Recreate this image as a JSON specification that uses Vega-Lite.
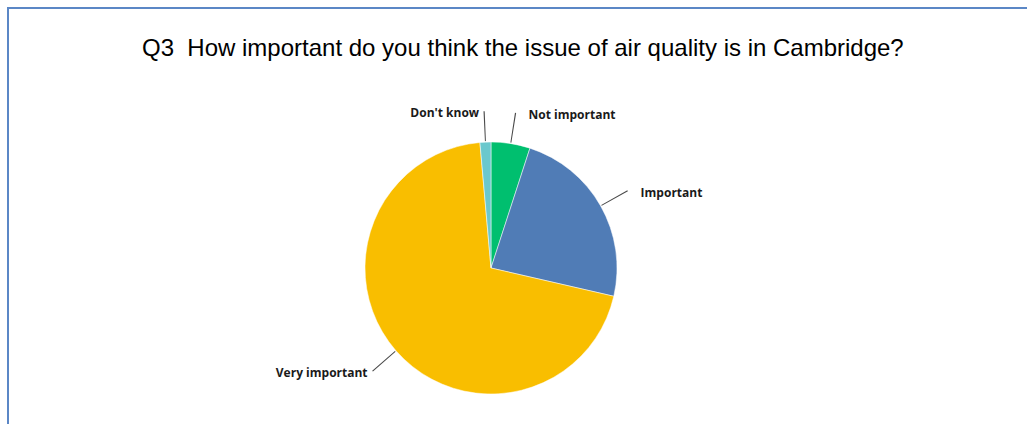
{
  "$schema": "https://vega.github.io/schema/vega-lite/v6.json",
  "width": 1100,
  "height": 500,
  "autosize": {"type": "none"},
  "padding": {"left": 8, "top": 8, "right": 0, "bottom": 0},
  "background": "white",
  "config": {"view": {"stroke": null}},
  "title": {
    "text": "Q3\u00a0 How important do you think the issue of air quality is in Cambridge?",
    "font": "Liberation Sans",
    "fontSize": 24,
    "fontWeight": "normal",
    "color": "#000000",
    "anchor": "start",
    "frame": "group",
    "offset": 0,
    "dx": 134,
    "dy": 54
  },
  "data": {
    "values": [
      {"answer": "Not important", "pct": 5.0, "ord": 1},
      {"answer": "Important", "pct": 23.6, "ord": 2},
      {"answer": "Very important", "pct": 70.0, "ord": 3},
      {"answer": "Don't know", "pct": 1.4, "ord": 4}
    ]
  },
  "transform": [
    {"window": [{"op": "sum", "field": "pct", "as": "cum"}], "sort": [{"field": "ord"}], "frame": [null, 0]},
    {"calculate": "datum.cum - datum.pct / 2", "as": "mid"},
    {"calculate": "datum.mid - 0.06", "as": "lead0"},
    {"calculate": "datum.mid + 0.06", "as": "lead1"}
  ],
  "layer": [
    {
      "data": {"values": [{"frame": 1}]},
      "transform": [],
      "mark": {"type": "rect", "x": 0, "y": 0, "x2": {"expr": "width"}, "y2": {"expr": "height"}, "fill": null, "stroke": "#5b87c6", "strokeWidth": 2}
    },
    {
      "mark": {"type": "arc", "x": 483, "y": 260, "radius": 126, "stroke": "white", "strokeWidth": 0.5},
      "encoding": {
        "theta": {"field": "pct", "type": "quantitative", "stack": true, "scale": {"domain": [0, 100]}},
        "order": {"field": "ord", "type": "quantitative"},
        "color": {
          "field": "answer",
          "type": "nominal",
          "scale": {
            "domain": ["Not important", "Important", "Very important", "Don't know"],
            "range": ["#00bf6f", "#507cb6", "#f9be00", "#6bc8cd"]
          },
          "legend": null
        }
      }
    },
    {
      "mark": {"type": "arc", "x": 483, "y": 260, "radius": 157, "radius2": 127, "color": "#4a4a4a"},
      "encoding": {
        "theta": {"field": "lead0", "type": "quantitative", "scale": {"domain": [0, 100]}},
        "theta2": {"field": "lead1"}
      }
    },
    {
      "transform": [{"filter": "datum.ord <= 2"}],
      "mark": {"type": "text", "x": 483, "y": 260, "radius": 157, "align": "left", "baseline": "middle", "dx": 13, "dy": 2, "font": "Open Sans", "fontWeight": "bold", "fontSize": 12, "color": "#1a1a1a"},
      "encoding": {
        "theta": {"field": "mid", "type": "quantitative", "scale": {"domain": [0, 100]}},
        "text": {"field": "answer"}
      }
    },
    {
      "transform": [{"filter": "datum.ord >= 3"}],
      "mark": {"type": "text", "x": 483, "y": 260, "radius": 157, "align": "right", "baseline": "middle", "dx": -5, "dy": 2, "font": "Open Sans", "fontWeight": "bold", "fontSize": 12, "color": "#1a1a1a"},
      "encoding": {
        "theta": {"field": "mid", "type": "quantitative", "scale": {"domain": [0, 100]}},
        "text": {"field": "answer"}
      }
    }
  ]
}
